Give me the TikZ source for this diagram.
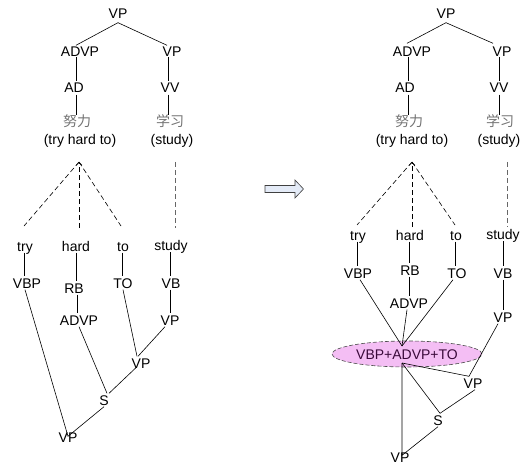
\documentclass[tikz,border=0pt]{standalone}
\usepackage{fontspec}
\setmainfont{Liberation Sans}
\newfontfamily\cjk{Noto Sans CJK SC}
\usetikzlibrary{arrows.meta,shapes.geometric}
\definecolor{ellfill}{HTML}{F4BEF4}
\definecolor{elltext}{HTML}{3A0A3A}
\definecolor{arrfill}{HTML}{E4EBF7}
\begin{document}
\begin{tikzpicture}[x=1pt,y=-1pt,
  lbl/.style={font=\fontsize{14}{14}\selectfont, text height=10pt, text depth=0pt, inner sep=1.5pt},
  cn/.style={lbl, font={\cjk\fontsize{14}{14}\selectfont}, text=black!55},
  edge/.style={line width=0.6pt},
  dline/.style={line width=0.6pt, dash pattern=on 5pt off 3pt},
  greydline/.style={dline, draw=black!60},
  tipup/.style={-{Straight Barb[length=3pt,width=6pt]}}
]
\path[use as bounding box] (0,0) rectangle (527,465);

% ================= LEFT =================
\node[lbl] (L0) at (118,14) {VP};
\node[lbl] (Ladvp) at (80,52) {ADVP};
\node[lbl] (Lvp) at (172,52) {VP};
\node[lbl] (Lad) at (74,88) {AD};
\node[lbl] (Lvv) at (170,88) {VV};
\node[cn] (Lcn1) at (77,122) {努力};
\node[lbl] (Len1) at (80,139.5) {(try hard to)};
\node[cn] (Lcn2) at (170,122) {学习};
\node[lbl] (Len2) at (172,139.5) {(study)};

\draw[edge] ([yshift=-2pt]L0.south) -- ([xshift=-4pt]Ladvp.north);
\draw[edge] ([yshift=-2pt]L0.south) -- ([xshift=-5pt]Lvp.north);
\draw[edge] (76,57) coordinate (la1) -- (la1 |- Lad.north);
\draw[edge] (la1 |- Lad.south) -- (la1 |- Lcn1.north);
\draw[edge] (168,57) coordinate (lv1) -- (lv1 |- Lvv.north);
\draw[edge] (lv1 |- Lvv.south) -- (lv1 |- Lcn2.north);

\coordinate (Lapex) at (79,162);
\coordinate (Ld1) at (24,226);
\coordinate (Ld2) at (79,228);
\coordinate (Ld3) at (121,226);
\coordinate (Ls1) at (175,162);
\coordinate (Ls2) at (175,228);
\draw[dline] (Lapex) -- (Ld1);
\draw[dline] (Lapex) -- (Ld3);
\draw[dline,tipup] (Ld2) -- (Lapex);
\draw[greydline] (Ls1) -- (Ls2);

\node[lbl] (Ltry) at (25,246) {try};
\node[lbl] (Lhard) at (76,246) {hard};
\node[lbl] (Lto) at (123,246) {to};
\node[lbl] (Lstudy) at (171,245.5) {study};
\node[lbl] (Lvbp) at (27,283) {VBP};
\node[lbl] (Lrb) at (74,288) {RB};
\node[lbl] (Lto2) at (123,283) {TO};
\node[lbl] (Lvb) at (171,283) {VB};
\node[lbl] (Ladvp2) at (79,320) {ADVP};
\node[lbl] (Lvpr) at (170,320) {VP};
\node[lbl] (Lvpm) at (141,363) {VP};
\node[lbl] (Ls) at (104,400) {S};
\node[lbl] (Lvpb) at (68,437) {VP};

\draw[edge] ([xshift=-1pt]Ltry.south) -- ([xshift=-1pt]Ltry.south |- Lvbp.north);
\draw[edge] (Lhard.south) -- (Lhard.south |- Lrb.north);
\draw[edge] ([xshift=1pt]Lhard.south |- Lrb.south) -- ([xshift=1pt]Lhard.south |- Ladvp2.north);
\draw[edge] ([xshift=-1pt]Lto.south) -- ([xshift=-1pt]Lto.south |- Lto2.north);
\draw[edge] ([xshift=-1pt]Lstudy.south) -- ([xshift=-1pt]Lstudy.south |- Lvb.north);
\draw[edge] ([xshift=-1pt]Lvb.south) -- ([xshift=-1pt]Lvb.south |- Lvpr.north);
\draw[edge] ([xshift=-2pt]Lvbp.south) -- ([yshift=-6pt]Lvpb.north) -- (Ls.south);
\draw[edge] (Ladvp2.south) -- ([xshift=3pt]Ls.north);
\draw[edge] ([xshift=5pt]Ls.north) -- ([xshift=-4pt,yshift=3pt]Lvpm.south);
\draw[edge] (Lto2.south) -- ([xshift=-4pt]Lvpm.north);
\draw[edge] ([xshift=-5pt]Lvpr.south) -- ([xshift=-3pt]Lvpm.north);

% ================= ARROW =================
\draw[line width=0.6pt, draw=black!75, fill=arrfill]
  (265,185.5) -- (295,185.5) -- (295,180) -- (303.5,189) -- (295,198) -- (295,192.5) -- (265,192.5) -- cycle;

% ================= RIGHT =================
\node[lbl] (R0) at (446,14) {VP};
\node[lbl] (Radvp) at (412,52) {ADVP};
\node[lbl] (Rvp) at (502,52) {VP};
\node[lbl] (Rad) at (405,88) {AD};
\node[lbl] (Rvv) at (499,88) {VV};
\node[cn] (Rcn1) at (409,122) {努力};
\node[lbl] (Ren1) at (412,139.5) {(try hard to)};
\node[cn] (Rcn2) at (500,122) {学习};
\node[lbl] (Ren2) at (499,139.5) {(study)};

\draw[edge] ([yshift=-2pt]R0.south) -- ([xshift=-5pt,yshift=2pt]Radvp.north);
\draw[edge] ([yshift=-2pt]R0.south) -- ([xshift=-9pt,yshift=2pt]Rvp.north);
\draw[edge] (408,57) coordinate (ra1) -- (ra1 |- Rad.north);
\draw[edge] (ra1 |- Rad.south) -- (ra1 |- Rcn1.north);
\draw[edge] (499,57) coordinate (rv1) -- (rv1 |- Rvv.north);
\draw[edge] (rv1 |- Rvv.south) -- (rv1 |- Rcn2.north);

\coordinate (Rapex) at (412,162);
\coordinate (Rd1) at (357,225);
\coordinate (Rd2) at (412,227);
\coordinate (Rd3) at (455,225);
\coordinate (Rs1) at (507,162);
\coordinate (Rs2) at (507,227);
\draw[dline] (Rapex) -- (Rd1);
\draw[dline] (Rapex) -- (Rd3);
\draw[dline,tipup] (Rd2) -- (Rapex);
\draw[greydline] (Rs1) -- (Rs2);

\node[lbl] (Rtry) at (358,235) {try};
\node[lbl] (Rhard) at (410,235) {hard};
\node[lbl] (Rto) at (456,235) {to};
\node[lbl] (Rstudy) at (503,234.5) {study};
\node[lbl] (Rvbp) at (358,273) {VBP};
\node[lbl] (Rrb) at (410,270) {RB};
\node[lbl] (Rto2) at (457,273) {TO};
\node[lbl] (Rvb) at (503,273) {VB};
\node[lbl] (Radvp2) at (409,303) {ADVP};
\node[lbl] (Rvpr) at (503,317) {VP};
\node[ellipse, draw=black!70, dash pattern=on 4pt off 2pt, line width=0.6pt,
      fill=ellfill, minimum width=150pt, minimum height=26pt, inner sep=0pt] (Rell) at (407,354) {};
\node[lbl, text=elltext] (Relltext) at (Rell.center) {VBP+ADVP+TO};
\node[lbl] (Rvpm) at (473,383) {VP};
\node[lbl] (Rs) at (438,420) {S};
\node[lbl] (Rvpb) at (400,457) {VP};

\coordinate (etop) at (402,346);
\coordinate (ebot) at (402,363);

\draw[edge] ([xshift=-1pt]Rtry.south) -- ([xshift=-1pt]Rtry.south |- Rvbp.north);
\draw[edge] ([xshift=-1pt]Rhard.south) -- ([xshift=-1pt]Rhard.south |- Rrb.north);
\draw[edge] ([xshift=-1pt]Rhard.south |- Rrb.south) -- ([xshift=-1pt]Rhard.south |- Radvp2.north);
\draw[edge] ([xshift=-1pt]Rto.south) -- ([xshift=-1pt]Rto.south |- Rto2.north);
\draw[edge] (Rstudy.south) -- (Rstudy.south |- Rvb.north);
\draw[edge] (Rvb.south) -- (Rvb.south |- Rvpr.north);
\draw[edge] ([xshift=2pt]Rvbp.south) -- (etop);
\draw[edge] ([xshift=-2pt]Radvp2.south) -- (etop);
\draw[edge] ([xshift=-4pt]Rto2.south) -- (etop);
\draw[edge] ([xshift=-5pt]Rvpr.south) -- ([xshift=-4pt]Rvpm.north);
\draw[edge] (ebot) -- ([xshift=-4pt]Rvpm.north);
\draw[edge] (ebot) -- ([xshift=2pt]Rs.north);
\draw[edge] ([xshift=2pt]Rs.north) -- ([xshift=2pt]Rvpm.south);
\draw[edge] (ebot) -- ([yshift=-5pt]Rvpb.north -| ebot) -- (Rs.south);
\end{tikzpicture}
\end{document}
